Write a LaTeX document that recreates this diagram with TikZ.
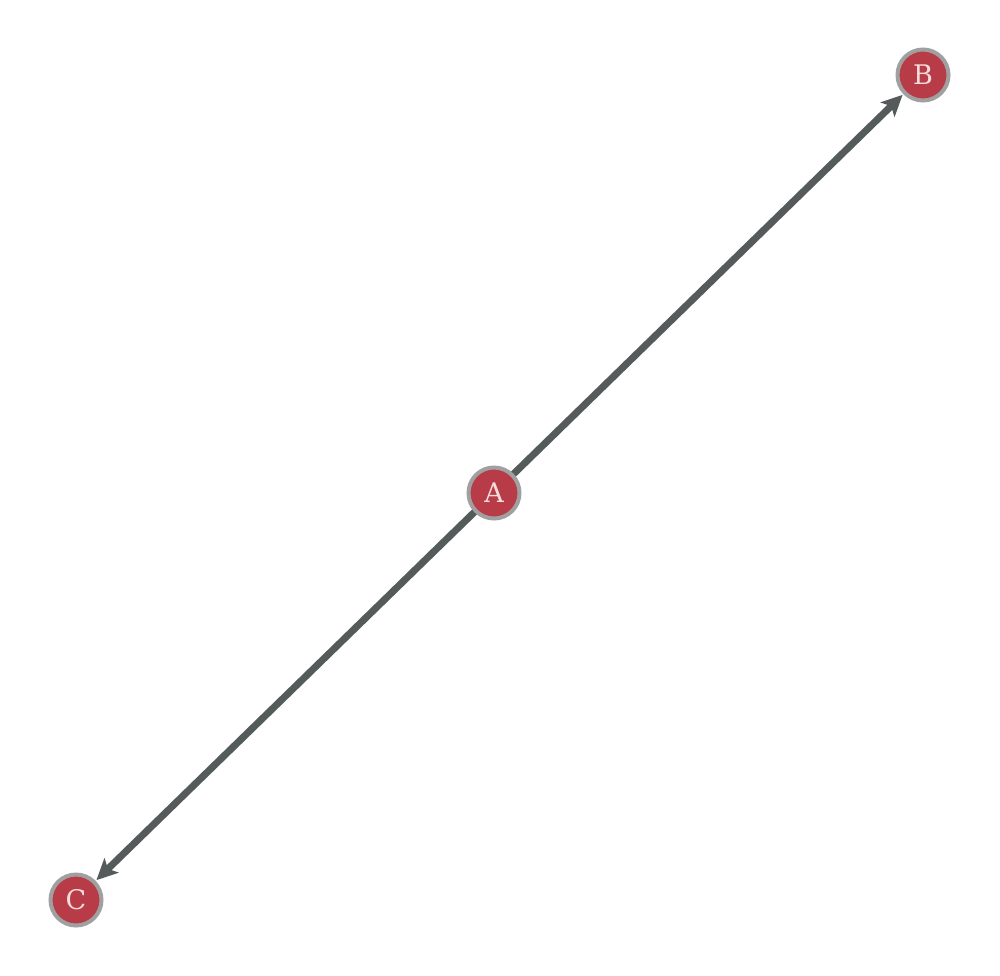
\documentclass[tikz,border=0pt]{standalone}
\usepackage{fontspec}
\setmainfont{DejaVu Serif}
\usetikzlibrary{arrows.meta}
\definecolor{nodefill}{RGB}{184,60,71}
\definecolor{noderim}{RGB}{160,160,160}
\definecolor{nodetext}{RGB}{245,220,220}
\definecolor{edgecol}{RGB}{85,91,90}
\tikzset{
  vertex/.style={circle, fill=nodefill, draw=noderim, line width=4pt, minimum size=51pt, inner sep=0pt, text=nodetext, font=\fontsize{27}{27}\selectfont},
  link/.style={draw=edgecol, line width=7pt, -{Stealth[length=21pt,width=20pt,inset=5pt]}, shorten >=1pt}
}
\begin{document}
\begin{tikzpicture}[x=1pt,y=1pt]
\useasboundingbox (0,0) rectangle (1000,-975);
\node[vertex] (B) at (923,-75) {B};
\node[vertex] (C) at (76,-900) {C};
\draw[link] (494,-493) -- (B);
\draw[link] (494,-493) -- (C);
\node[vertex] (A) at (494,-493) {A};
\end{tikzpicture}
\end{document}
